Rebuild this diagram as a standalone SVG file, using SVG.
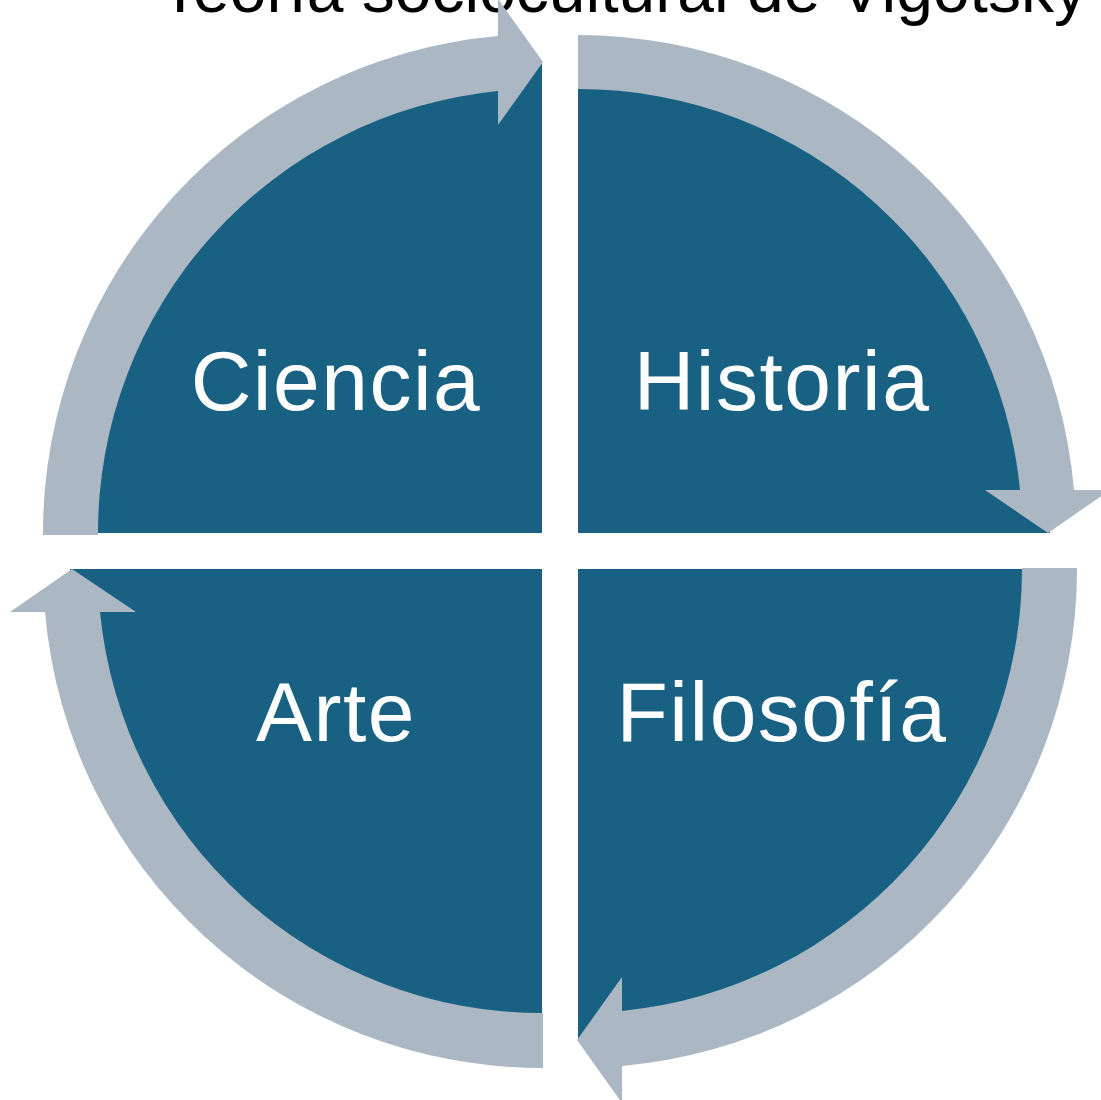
<svg xmlns="http://www.w3.org/2000/svg" width="1101" height="1100" viewBox="0 0 1101 1100">
<style>
.pie{fill:#186183}
.arr{fill:#ABB7C3}
.lbl{font-family:"Liberation Sans","Open Sans",Arial,sans-serif;font-size:84px;fill:#ffffff;text-anchor:middle;letter-spacing:1.5px}
.title{font-family:"Liberation Sans","Open Sans",Arial,sans-serif;font-size:66px;fill:#000000}
</style>
<rect width="1101" height="1100" fill="#ffffff"/>
<text class="title" x="160" y="12">Teoría sociocultural de Vigotsky</text>
<g id="ciencia">
<path class="pie" d="M542 533 L70 533 A472 472 0 0 1 542 61 Z"/>
<text class="lbl" x="336" y="410">Ciencia</text>
</g>
<g id="historia">
<path class="pie" d="M578 533 L578 61 A472 472 0 0 1 1050 533 Z"/>
<text class="lbl" x="782" y="410">Historia</text>
</g>
<g id="filosofia">
<path class="pie" d="M578 569 L1050 569 A472 472 0 0 1 578 1041 Z"/>
<text class="lbl" x="782" y="741">Filosofía</text>
</g>
<g id="arte">
<path class="pie" d="M542 569 L542 1041 A472 472 0 0 1 70 569 Z"/>
<text class="lbl" x="336" y="741">Arte</text>
</g>
<g id="connectors">
<path class="arr" d="M43 535 A499 499 0 0 1 498 36 L498 -1 L543 62 L498 125 L498 91 A444 444 0 0 0 98 535 Z"/>
<path class="arr" d="M578 35 A498 498 0 0 1 1074 490 L1110 490 L1048 533 L985 490 L1020 490 A444 444 0 0 0 578 89 Z"/>
<path class="arr" d="M1077 568 A499 499 0 0 1 622 1066 L622 1103 L577 1040 L622 977 L622 1011 A444 444 0 0 0 1022 568 Z"/>
<path class="arr" d="M543 1068 A499 499 0 0 1 45 612 L10 612 L72 569 L136 612 L100 612 A444 444 0 0 0 543 1013 Z"/>
</g>
</svg>
